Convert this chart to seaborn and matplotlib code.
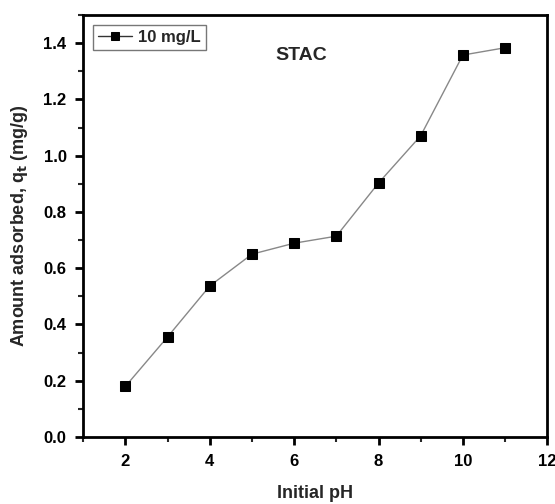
import matplotlib
matplotlib.use("Agg")
import matplotlib.pyplot as plt
import seaborn as sns
import pandas as pd
from matplotlib.ticker import MultipleLocator

ph = [2, 3, 4, 5, 6, 7, 8, 9, 10, 11]
qt = [0.18, 0.356, 0.537, 0.65, 0.689, 0.714, 0.903, 1.071, 1.358, 1.384]
series_label = "10 mg/L"
df = pd.DataFrame({"pH": ph, "qt": qt})

sns.set_theme(style="ticks")
plt.rcParams['font.family'] = ['Liberation Sans', 'DejaVu Sans']
plt.rcParams['font.weight'] = 'bold'
plt.rcParams['mathtext.default'] = 'bf'

fig = plt.figure(figsize=(5.55, 5.04), dpi=100)
ax = fig.add_axes([0.150, 0.133, 0.836, 0.837])

sns.lineplot(data=df, x="pH", y="qt", ax=ax, color="#888888", linewidth=1.0,
             marker="s", markersize=7, markerfacecolor="black",
             markeredgecolor="black", label=series_label)

ax.set_xlim(1, 12)
ax.set_ylim(0, 1.5)
ax.xaxis.set_minor_locator(MultipleLocator(1))
ax.yaxis.set_minor_locator(MultipleLocator(0.1))
ax.set_xticks([2, 4, 6, 8, 10, 12])
ax.set_xticklabels(["2", "4", "6", "8", "10", "12"])
ax.set_yticks([0.0, 0.2, 0.4, 0.6, 0.8, 1.0, 1.2, 1.4])
ax.set_yticklabels(["0.0", "0.2", "0.4", "0.6", "0.8", "1.0", "1.2", "1.4"])

for s in ax.spines.values():
    s.set_linewidth(2.0)
    s.set_color("black")
    s.set_visible(True)
ax.tick_params(which="major", direction="out", length=6, width=2, labelsize=12,
               colors="black", pad=6)
ax.tick_params(which="minor", direction="out", length=3.5, width=1.5)
for lab in ax.get_xticklabels() + ax.get_yticklabels():
    lab.set_fontweight("bold")

ax.set_xlabel("Initial pH", fontsize=13, fontweight="bold", labelpad=12)
ax.set_ylabel(r"Amount adsorbed, q$_t$ (mg/g)", fontsize=13, fontweight="bold", labelpad=10)

ax.text(0.414, 0.893, "STAC", transform=ax.transAxes, fontsize=14, fontweight="bold")

leg = ax.legend(loc="upper left", fontsize=12, frameon=True, fancybox=False,
                borderpad=0.3, handlelength=2.0, handletextpad=0.4,
                borderaxespad=0.6, markerscale=0.75)
leg.get_frame().set_edgecolor("#555555")
leg.get_frame().set_linewidth(1.0)
for h in leg.legend_handles:
    h.set_color("#333333")
    h.set_markerfacecolor("black")
for t in leg.get_texts():
    t.set_fontweight("bold")

fig.savefig("out.png", dpi=100)
